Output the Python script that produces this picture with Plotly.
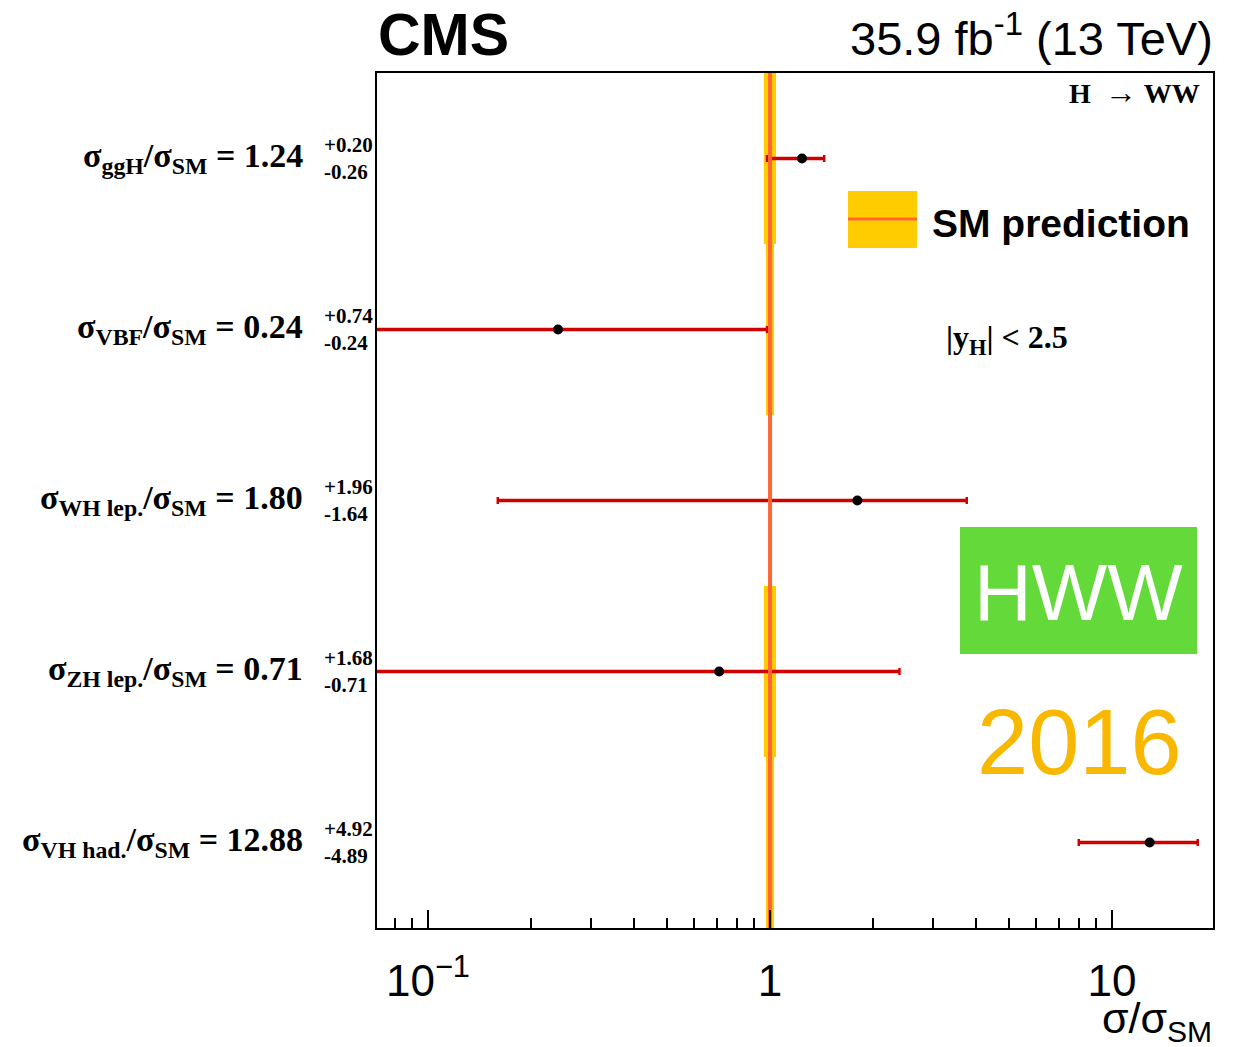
import plotly.graph_objects as go

# ---------------- data ----------------
processes = ["ggH", "VBF", "WH lep.", "ZH lep.", "VH had."]
mu_values = [1.24, 0.24, 1.80, 0.71, 12.88]
err_up = [0.20, 0.74, 1.96, 1.68, 4.92]
err_down = [0.26, 0.24, 1.64, 0.71, 4.89]
# relative SM theory uncertainty per row (band half-width)
sm_rel_unc = [0.041, 0.027, 0.007, 0.041, 0.027]
sm_value = 1.0
x_tick_vals = [0.1, 1, 10]
x_tick_text = ["10<sup>\u22121</sup>", "1", "10"]
x_minor_vals = [0.08, 0.09, 0.2, 0.3, 0.4, 0.5, 0.6, 0.7, 0.8, 0.9,
                2, 3, 4, 5, 6, 7, 8, 9]

W, H = 1239, 1047
L, R, T, B = 377, 1213, 73, 928


def px(x):
    return (x - L) / (R - L)


def py(y):
    return (B - y) / (B - T)


RED = "#D00000"
YELLOW = "#FFCC00"
ORANGE = "#FF6633"

fig = go.Figure()
rows = list(range(len(processes)))

# SM bands
for i, u in zip(rows, sm_rel_unc):
    lo, hi = sm_value * (1 - u), sm_value * (1 + u)
    fig.add_trace(go.Scatter(x=[lo, hi, hi, lo, lo],
                             y=[i - 0.5, i - 0.5, i + 0.5, i + 0.5, i - 0.5],
                             fill="toself", fillcolor=YELLOW, mode="lines",
                             line=dict(width=0, color=YELLOW), hoverinfo="skip",
                             showlegend=False))

# error bars
for i, v, u, d in zip(rows, mu_values, err_up, err_down):
    lo = v - d
    hi = v + u
    lo_plot = lo if lo > 0 else 1e-3
    fig.add_trace(go.Scatter(x=[lo_plot, hi], y=[i, i], mode="lines+markers",
                             line=dict(color=RED, width=3.5),
                             marker=dict(symbol="line-ns-open", size=5,
                                         line=dict(color=RED, width=2.5)),
                             hoverinfo="skip", showlegend=False))

# SM line
fig.add_trace(go.Scatter(x=[sm_value, sm_value], y=[-0.5, len(rows) - 0.5],
                         mode="lines", line=dict(color=ORANGE, width=4),
                         hoverinfo="skip", showlegend=False))

# central values
fig.add_trace(go.Scatter(x=mu_values, y=rows, mode="markers",
                         marker=dict(color="black", size=10),
                         showlegend=False))

serif = "Liberation Serif"
sans = "Liberation Sans"
ann = []
for i, p, v, u, d in zip(rows, processes, mu_values, err_up, err_down):
    ann.append(dict(xref="paper", yref="y", x=px(305), y=i, xanchor="right",
                    yanchor="middle", showarrow=False, yshift=1,
                    text=f"<b>\u03c3<sub>{p}</sub>/\u03c3<sub>SM</sub> = {v:.2f}</b>",
                    font=dict(family=serif, size=34, color="black")))
    ann.append(dict(xref="paper", yref="y", x=px(322), y=i, xanchor="left",
                    yanchor="middle", showarrow=False, align="left",
                    text=f"<b>+{u:.2f}<br>-{d:.2f}</b>",
                    font=dict(family=serif, size=21, color="black")))

ann += [
    dict(xref="paper", yref="paper", x=px(376), y=py(35), xanchor="left",
         yanchor="middle", showarrow=False, text="<b>CMS</b>",
         font=dict(family=sans, size=59, color="black")),
    dict(xref="paper", yref="paper", x=px(1215), y=py(35), xanchor="right",
         yanchor="middle", showarrow=False,
         text="35.9 fb<sup>-1</sup> (13 TeV)",
         font=dict(family=sans, size=47, color="black")),
    dict(xref="paper", yref="paper", x=px(1202), y=py(92), xanchor="right",
         yanchor="middle", showarrow=False,
         text="<b>H</b>  <span style='font-size:32px'>\u2192</span> <b>WW</b>",
         font=dict(family=serif, size=28, color="black")),
    dict(xref="paper", yref="paper", x=px(930), y=py(224), xanchor="left",
         yanchor="middle", showarrow=False, text="<b>SM prediction</b>",
         font=dict(family=sans, size=39, color="black")),
    dict(xref="paper", yref="paper", x=px(944), y=py(339), xanchor="left",
         yanchor="middle", showarrow=False,
         text="<b>|y<sub>H</sub>| &lt; 2.5</b>",
         font=dict(family=serif, size=32, color="black")),
    dict(xref="paper", yref="paper", x=px(1078), y=py(592), xanchor="center",
         yanchor="middle", showarrow=False, text="HWW",
         font=dict(family=sans, size=80, color="white")),
    dict(xref="paper", yref="paper", x=px(1079), y=py(742), xanchor="center",
         yanchor="middle", showarrow=False, text="2016",
         font=dict(family=sans, size=92, color="#F8B800")),
    dict(xref="paper", yref="paper", x=px(1214), y=py(1021), xanchor="right",
         yanchor="middle", showarrow=False,
         text="\u03c3/\u03c3<sub>SM</sub>",
         font=dict(family=sans, size=43, color="black")),
]

shapes = [
    dict(type="rect", xref="paper", yref="paper", x0=px(848), x1=px(917),
         y0=py(248), y1=py(191), fillcolor=YELLOW, line=dict(width=0)),
    dict(type="line", xref="paper", yref="paper", x0=px(848), x1=px(917),
         y0=py(219), y1=py(219), line=dict(color=ORANGE, width=3)),
    dict(type="rect", xref="paper", yref="paper", x0=px(960), x1=px(1197),
         y0=py(654), y1=py(527), fillcolor="#63D93A", line=dict(width=0)),
]

fig.update_layout(
    width=W, height=H, autosize=False,
    margin=dict(l=L, r=W - R, t=T, b=H - B, pad=0),
    paper_bgcolor="white", plot_bgcolor="white",
    showlegend=False, annotations=ann, shapes=shapes,
    xaxis=dict(type="log", range=[-1.149, 1.295], showgrid=False,
               zeroline=False, showline=True, mirror=True, linecolor="black",
               linewidth=2, ticks="inside", ticklen=18, tickwidth=2,
               tickcolor="black", tickvals=x_tick_vals, ticktext=x_tick_text,
               ticklabelstandoff=13,
               tickfont=dict(family=sans, size=44, color="black"),
               minor=dict(tickvals=x_minor_vals, ticks="inside", ticklen=10,
                          tickwidth=1.5, tickcolor="black", showgrid=False)),
    yaxis=dict(range=[4.5, -0.5], showgrid=False, zeroline=False,
               showline=True, mirror=True, linecolor="black", linewidth=2,
               showticklabels=False, ticks=""),
)

fig.write_html("out.html", config={"displayModeBar": False},
               post_script="document.body.style.margin='0';")
